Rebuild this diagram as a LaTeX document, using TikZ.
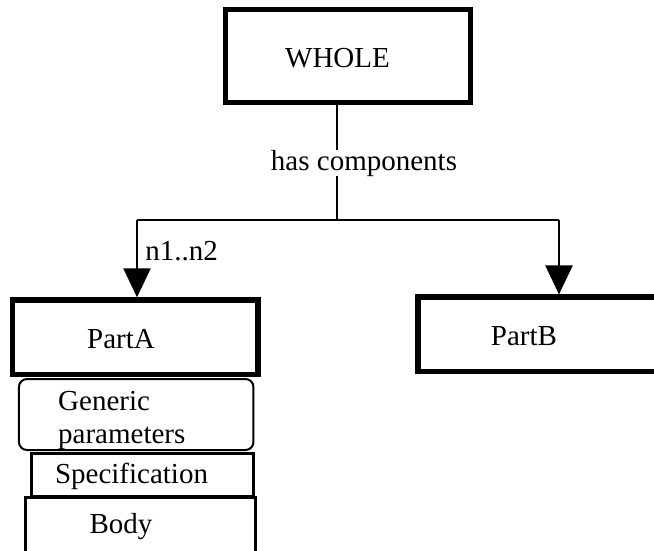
\documentclass[tikz,border=0pt]{standalone}
\usepackage{fontspec}
\setmainfont{Liberation Serif}
\usetikzlibrary{arrows.meta}
\begin{document}
\begin{tikzpicture}[x=1pt,y=-1pt,
  every node/.style={font=\fontsize{29}{33}\selectfont, inner sep=0pt},
  heavybox/.style={draw, rectangle, line width=5.5pt, fill=white},
  roundbox/.style={draw, rectangle, rounded corners=8pt, line width=2pt},
  thinbox/.style={draw, rectangle, line width=3pt},
  wire/.style={line width=2.5pt},
  arrowwire/.style={wire, -{Triangle[length=29pt,width=27pt]}},
  caption/.style={anchor=base}
]
\useasboundingbox (0,0) rectangle (654,550);

% main blocks
\node[heavybox, minimum width=244.8pt, minimum height=93pt] (whole) at (348,56) {};
\node[heavybox, minimum width=245.7pt, minimum height=74.3pt] (parta) at (135.2,337.2) {};
\node[heavybox, minimum width=245.7pt, minimum height=74.5pt] (partb) at (540.9,334.4) {};

% parts stacked below PartA
\node[roundbox, minimum width=234.5pt, minimum height=71pt] (generic) at (136.2,414.5) {};
\node[thinbox, minimum width=222pt, minimum height=43pt] (spec) at (142,475) {};
\node[thinbox, minimum width=230pt, minimum height=70pt] (body) at (140,532.5) {};

% box texts
\node[caption] (wholetxt) at (337.5,67.7) {WHOLE};
\node[caption] (partatxt) at (121,348) {PartA};
\node[caption] (partbtxt) at (524,345.7) {PartB};
\node[anchor=base west, align=left] (generictxt) at (58,443.3) {Generic\\parameters};
\node[caption] (spectxt) at (131.5,483.3) {Specification};
\node[caption] (bodytxt) at (121,533.3) {Body};

% composition connector
\coordinate (split) at (337,220);
\coordinate (toa) at (137,220);
\coordinate (tob) at (559,220);
\draw[wire] (whole.south -| split) -- (split);
\draw[wire] (toa) -- (tob);
\draw[arrowwire] (toa) -- (toa |- parta.north);
\draw[arrowwire] (tob) -- (tob |- partb.north);

% connector labels
\node[caption, fill=white] (haslbl) at (364,170) {has components};
\node[caption] (multlbl) at (181.5,260) {n1..n2};
\end{tikzpicture}
\end{document}
